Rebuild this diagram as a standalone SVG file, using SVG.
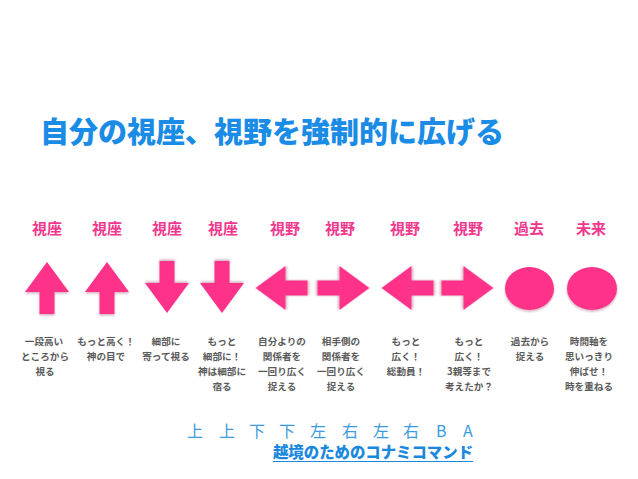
<svg xmlns="http://www.w3.org/2000/svg" xmlns:xlink="http://www.w3.org/1999/xlink" width="638" height="479" viewBox="0 0 638 479">
<style>
.ttl{font-family:"Noto Sans CJK JP",sans-serif;font-weight:900;font-size:29px;fill:#1A8CE6}
.lbl{font-family:"Noto Sans CJK JP",sans-serif;font-weight:bold;font-size:15px;fill:#F0388C;text-anchor:middle}
.dsc{font-family:"Noto Sans CJK JP",sans-serif;font-weight:bold;font-size:9.6px;fill:#5a5a5a;text-anchor:middle}
.shape{fill:#FF338A;filter:url(#sh)}
.cmd{font-family:"Noto Sans CJK JP",sans-serif;font-size:16px;fill:#3A9BE0}
.sub{font-family:"Noto Sans CJK JP",sans-serif;font-weight:900;font-size:15.4px;fill:#1A88DD;text-anchor:middle}
</style>
<defs>
<filter id="sh" x="-20%" y="-20%" width="140%" height="140%">
<feDropShadow dx="0" dy="1.5" stdDeviation="1" flood-color="#802040" flood-opacity="0.35"/>
</filter>
<path id="arr" d="M0,-26 L22,4 L7.5,4 L7.5,26 L-7.5,26 L-7.5,4 L-22,4 Z"/>
</defs>
<rect width="638" height="479" fill="#fff"/>
<text class="ttl" x="40" y="143">自分の視座、視野を強制的に広げる</text>

<g id="col1">
<text class="lbl" x="47" y="234">視座</text>
<use href="#arr" class="shape" transform="translate(47,288)"/>
<text class="dsc"><tspan x="44" y="345">一段高い</tspan><tspan x="45" y="360">ところから</tspan><tspan x="45" y="375">視る</tspan></text>
</g>
<g id="col2">
<text class="lbl" x="107" y="234">視座</text>
<use href="#arr" class="shape" transform="translate(107,288)"/>
<text class="dsc"><tspan x="106" y="345">もっと高く！</tspan><tspan x="106" y="360">神の目で</tspan></text>
</g>
<g id="col3">
<text class="lbl" x="167" y="234">視座</text>
<use href="#arr" class="shape" transform="translate(167,287) rotate(180)"/>
<text class="dsc"><tspan x="166" y="345">細部に</tspan><tspan x="166" y="360">寄って視る</tspan></text>
</g>
<g id="col4">
<text class="lbl" x="223" y="234">視座</text>
<use href="#arr" class="shape" transform="translate(222,287) rotate(180)"/>
<text class="dsc"><tspan x="222" y="345">もっと</tspan><tspan x="222" y="360">細部に！</tspan><tspan x="222" y="375">神は細部に</tspan><tspan x="222" y="390">宿る</tspan></text>
</g>
<g id="col5">
<text class="lbl" x="285" y="234">視野</text>
<use href="#arr" class="shape" transform="translate(281.5,288) rotate(-90)"/>
<text class="dsc"><tspan x="282" y="345">自分よりの</tspan><tspan x="282" y="360">関係者を</tspan><tspan x="282" y="375">一回り広く</tspan><tspan x="282" y="390">捉える</tspan></text>
</g>
<g id="col6">
<text class="lbl" x="340" y="234">視野</text>
<use href="#arr" class="shape" transform="translate(343.5,288) rotate(90)"/>
<text class="dsc"><tspan x="341" y="345">相手側の</tspan><tspan x="341" y="360">関係者を</tspan><tspan x="341" y="375">一回り広く</tspan><tspan x="341" y="390">捉える</tspan></text>
</g>
<g id="col7">
<text class="lbl" x="405" y="234">視野</text>
<use href="#arr" class="shape" transform="translate(407.5,288) rotate(-90)"/>
<text class="dsc"><tspan x="406" y="345">もっと</tspan><tspan x="406" y="360">広く！</tspan><tspan x="406" y="375">総動員！</tspan></text>
</g>
<g id="col8">
<text class="lbl" x="468" y="234">視野</text>
<use href="#arr" class="shape" transform="translate(467.5,288) rotate(90)"/>
<text class="dsc"><tspan x="469" y="345">もっと</tspan><tspan x="469" y="360">広く！</tspan><tspan x="469" y="375">3親等まで</tspan><tspan x="469" y="390">考えたか？</tspan></text>
</g>
<g id="col9">
<text class="lbl" x="529" y="234">過去</text>
<ellipse class="shape" cx="529.5" cy="288.5" rx="24.5" ry="21.5"/>
<text class="dsc"><tspan x="530" y="345">過去から</tspan><tspan x="530" y="360">捉える</tspan></text>
</g>
<g id="col10">
<text class="lbl" x="591" y="234">未来</text>
<ellipse class="shape" cx="592" cy="288.5" rx="25" ry="21.5"/>
<text class="dsc"><tspan x="589" y="345">時間軸を</tspan><tspan x="589" y="360">思いっきり</tspan><tspan x="589" y="375">伸ばせ！</tspan><tspan x="589" y="390">時を重ねる</tspan></text>
</g>

<g id="connectors"></g>

<g id="command">
<text class="cmd" x="187 219 249 279 310 342 373 403 436 463" y="437">上上下下左右左右BA</text>
<text class="sub" x="373" y="458">越境のためのコナミコマンド</text>
<line x1="273" y1="461.5" x2="473" y2="461.5" stroke="#1A88DD" stroke-width="1"/>
</g>
</svg>
